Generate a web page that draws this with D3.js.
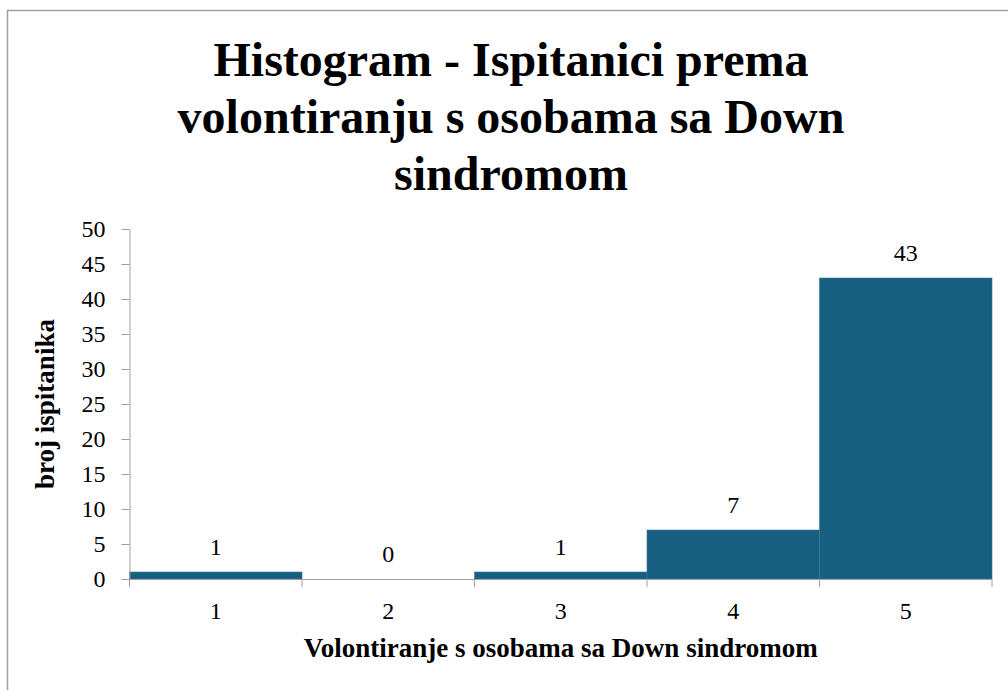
<!DOCTYPE html>
<html>
<head>
<meta charset="utf-8">
<script src="https://cdn.jsdelivr.net/npm/d3@7"></script>
<style>
  body { margin: 0; background: #fff; }
  svg { display: block; font-family: "Liberation Serif", "Times New Roman", serif; }
</style>
</head>
<body>
<svg width="1008" height="690"></svg>
<script>
const categories = ['1', '2', '3', '4', '5'];
const counts = [1, 0, 1, 7, 43];
const yTicks = [0, 5, 10, 15, 20, 25, 30, 35, 40, 45, 50];
const titleLines = ['Histogram - Ispitanici prema', 'volontiranju s osobama sa Down', 'sindromom'];

const svg = d3.select('svg');
const axisColor = '#a0a0a0';
const serif = '"Liberation Serif", "Times New Roman", serif';

// outer chart frame
svg.append('rect')
  .attr('x', 7.5).attr('y', 10.5)
  .attr('width', 1010).attr('height', 700)
  .attr('fill', 'none')
  .attr('stroke', axisColor)
  .attr('stroke-width', 1.5);

const margin = {top: 229, left: 129.5, right: 16, bottom: 111};
const width = 1008 - margin.left - margin.right;
const height = 690 - margin.top - margin.bottom;
const g = svg.append('g').attr('transform', `translate(${margin.left}, ${margin.top})`);

const x = d3.scaleBand()
  .domain(categories)
  .range([0, width])
  .padding(0);

const y = d3.scaleLinear()
  .domain([0, 50])
  .range([height, 0]);

// bars
g.selectAll('.bar')
  .data(categories)
  .enter().append('rect')
    .attr('class', 'bar')
    .attr('x', d => x(d))
    .attr('y', (d, i) => y(counts[i]))
    .attr('width', x.bandwidth())
    .attr('height', (d, i) => height - y(counts[i]))
    .attr('fill', '#175f80')
    .attr('stroke', '#3a7894')
    .attr('stroke-width', 0.6);

// value labels
g.selectAll('.label')
  .data(categories)
  .enter().append('text')
    .attr('class', 'label')
    .attr('x', d => x(d) + x.bandwidth() / 2)
    .attr('y', (d, i) => y(counts[i]) - 17)
    .attr('text-anchor', 'middle')
    .attr('font-size', 24)
    .attr('fill', '#000')
    .text((d, i) => counts[i]);

// y axis
const yAxis = g.append('g')
  .attr('class', 'axis axis--y')
  .call(d3.axisLeft(y).tickValues(yTicks).tickSize(8).tickPadding(16).tickSizeOuter(0));
yAxis.attr('font-family', serif);
yAxis.selectAll('text').attr('font-size', 24).attr('fill', '#000');

// x axis: labels centred in bins, ticks at bin edges
const xAxis = g.append('g')
  .attr('class', 'axis axis--x')
  .attr('transform', `translate(0, ${height})`)
  .call(d3.axisBottom(x).tickSize(0).tickPadding(23).tickSizeOuter(0));
xAxis.attr('font-family', serif);
xAxis.selectAll('text').attr('font-size', 24).attr('fill', '#000');

const edges = categories.map(d => x(d)).concat([x(categories[categories.length - 1]) + x.bandwidth()]);
xAxis.selectAll('.edge')
  .data(edges)
  .enter().append('line')
    .attr('class', 'edge')
    .attr('x1', d => d).attr('x2', d => d)
    .attr('y1', 0).attr('y2', 8)
    .attr('stroke', axisColor);

svg.selectAll('.axis path, .axis line').attr('stroke', axisColor);

// titles
svg.append('g').selectAll('text')
  .data(titleLines)
  .enter().append('text')
    .attr('x', 511)
    .attr('y', (d, i) => 76 + i * 57)
    .attr('text-anchor', 'middle')
    .attr('font-size', 48)
    .attr('font-weight', 'bold')
    .text(d => d);

svg.append('text')
  .attr('transform', `translate(54, ${margin.top + height / 2}) rotate(-90)`)
  .attr('text-anchor', 'middle')
  .attr('font-size', 27)
  .attr('font-weight', 'bold')
  .text('broj ispitanika');

svg.append('text')
  .attr('x', margin.left + width / 2)
  .attr('y', 657)
  .attr('text-anchor', 'middle')
  .attr('font-size', 27)
  .attr('font-weight', 'bold')
  .text('Volontiranje s osobama sa Down sindromom');
</script>
</body>
</html>
